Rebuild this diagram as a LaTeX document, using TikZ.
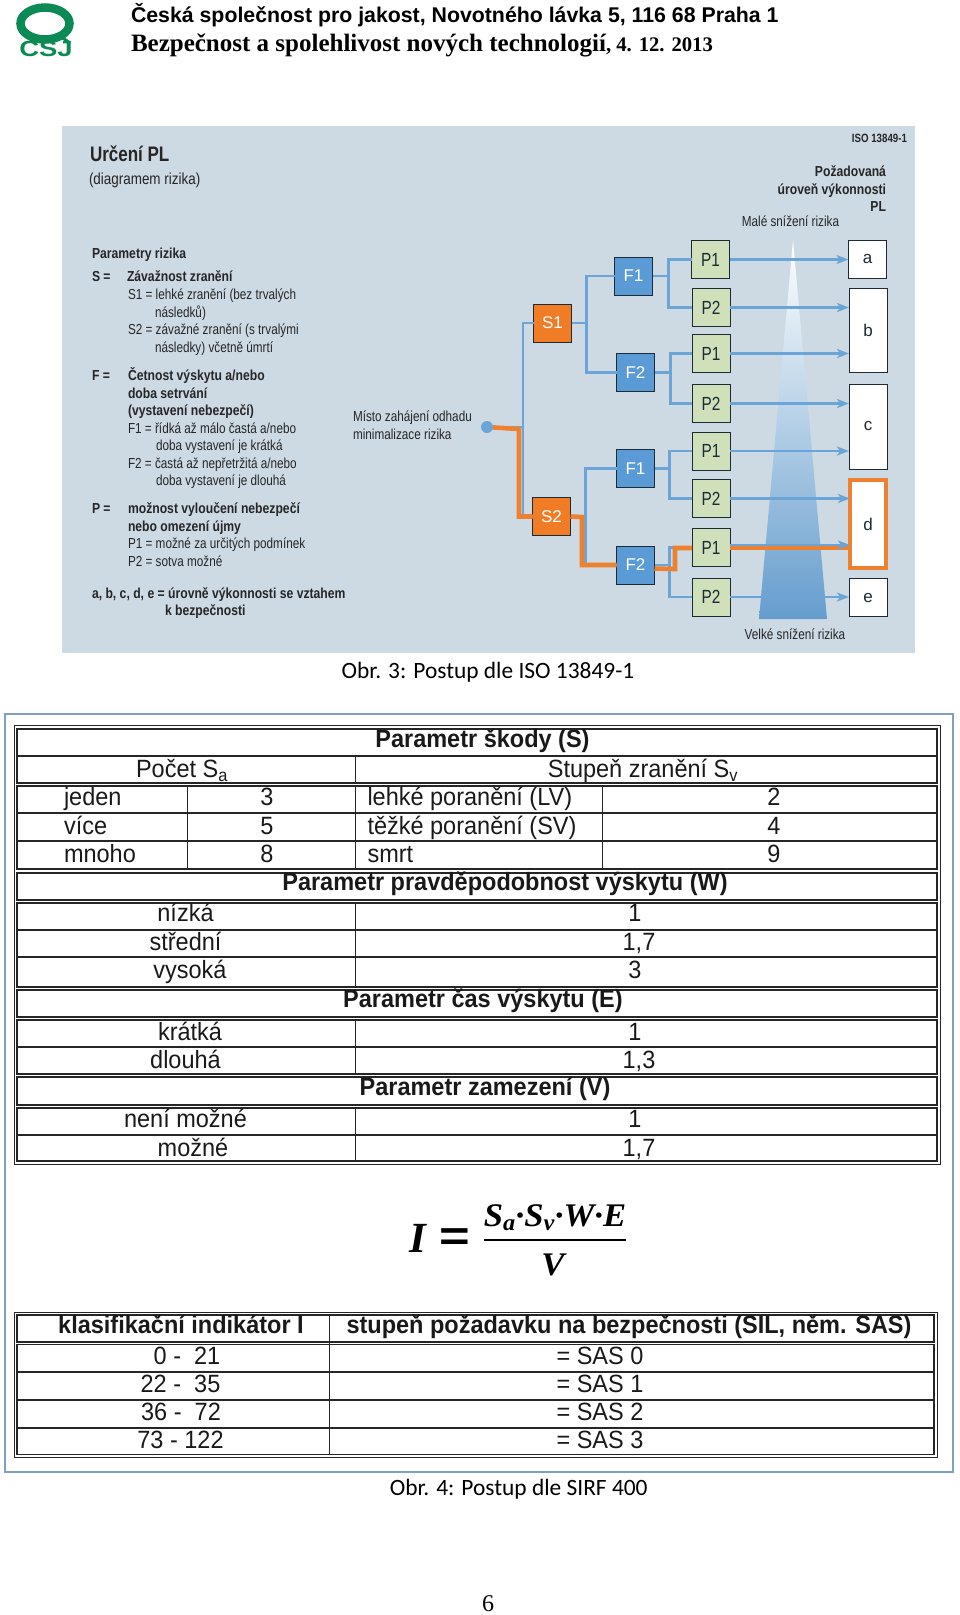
\documentclass[tikz,border=0pt]{standalone}
\usepackage{fontspec}
\setmainfont{Liberation Sans}
\newfontfamily\narrowfont[FakeStretch=0.81]{Liberation Sans}
\newfontfamily\thinfont[FakeStretch=0.84]{Liberation Sans}
\newfontfamily\cellfont[FakeStretch=0.94]{Liberation Sans}
\newfontfamily\logofont[FakeStretch=1.25]{Liberation Sans}
\newfontfamily\capfont{Carlito}
\newfontfamily\headfont{Liberation Serif}
\newfontfamily\fracfont[FakeStretch=1.05]{Liberation Serif}
\usetikzlibrary{arrows.meta,positioning}
\definecolor{panelc}{HTML}{CDDAE3}
\definecolor{wirec}{HTML}{6BA5D8}
\definecolor{hotc}{HTML}{EE8130}
\definecolor{fboxc}{HTML}{5A9BD5}
\definecolor{sboxc}{HTML}{F07D26}
\definecolor{pboxc}{HTML}{CFE0BA}
\definecolor{edgec}{HTML}{1C2B36}
\definecolor{logoc}{HTML}{0B8A55}
\definecolor{framec}{HTML}{7F9FC9}
\begin{document}
\begin{tikzpicture}[x=1pt,y=-1pt,
  lbl/.style={inner sep=0,outer sep=0},
  sbox/.style={draw=edgec,line width=1pt,outer sep=0,minimum size=38pt,fill=sboxc,text=white,font=\fontsize{17}{20}\selectfont},
  fbox/.style={sbox,fill=fboxc},
  pbox/.style={sbox,fill=pboxc,text=edgec,font=\narrowfont\fontsize{19}{20}\selectfont},
  lvl/.style={draw=edgec,line width=1pt,outer sep=0,minimum width=38pt,fill=white,text=edgec,font=\fontsize{17}{20}\selectfont},
  wire/.style={draw=wirec,line width=2.6pt},
  hot/.style={draw=hotc,line width=4.6pt},
  ar/.style={wire,-{Stealth[length=12pt,width=9pt,inset=3pt]}},
  side/.style={lbl,anchor=west,text height=11.5pt,text depth=3pt,text=black!85,font=\narrowfont\fontsize{14.5}{16}\selectfont},
  sideb/.style={side,font=\thinfont\bfseries\fontsize{14.5}{16}\selectfont},
  cell/.style={lbl,text height=20pt,text depth=5pt,text=black!90,font=\cellfont\fontsize{25}{28}\selectfont},
  cellb/.style={cell,font=\cellfont\bfseries\fontsize{25}{28}\selectfont},
  rule/.style={draw=black!85,line width=1.3pt}]
\useasboundingbox (0,0) rectangle (960,1615);

% header
\node[lbl,text=logoc,font=\logofont\bfseries\fontsize{22}{22}\selectfont] (logo) at (46,47) {ČSJ};
\draw[logoc,line width=8.5pt] (45,23.5) ellipse (24.5 and 16);
\draw[logoc,line width=3pt] (60,36) -- (70,43);
\node[lbl,anchor=west,font=\bfseries\fontsize{21.3}{22}\selectfont] (head1) at (131,15) {Česká společnost pro jakost, Novotného lávka 5, 116 68 Praha 1};
\node[lbl,anchor=west,font=\headfont\bfseries\fontsize{25}{26}\selectfont] (head2) at (131,45) {Bezpečnost a spolehlivost nových technologií{\fontsize{20.7}{22}\selectfont, 4. 12. 2013}};

% risk graph
\fill[panelc] (62,126) rectangle (915,653);
\shade[top color=white,bottom color=wirec!95!black] (793,240) -- (827,619) -- (759,619) -- cycle;

\node[sbox] (s1) at (552.5,323) {S1};
\node[sbox] (s2) at (551.5,516.5) {S2};
\node[fbox] (f1a) at (633.5,276) {F1};
\node[fbox] (f2a) at (635.5,372.5) {F2};
\node[fbox] (f1b) at (635.5,468.5) {F1};
\node[fbox] (f2b) at (635.5,565) {F2};
\node[pbox] (p1a) at (710.5,259.5) {P1};
\node[pbox,below=10pt of p1a.south,xshift=.5pt] (p2a) {P2};
\node[pbox,below=8pt of p2a] (p1b) {P1};
\node[pbox,below=12pt of p1b] (p2b) {P2};
\node[pbox,below=9.5pt of p2b] (p1c) {P1};
\node[pbox,below=9.5pt of p1c] (p2c) {P2};
\node[pbox,below=11pt of p2c] (p1d) {P1};
\node[pbox,below=11.5pt of p1d] (p2d) {P2};
\node[lvl,minimum height=38pt] (a) at (867.5,259.5) {a};
\node[lvl,minimum height=84pt] (b) at (868,330) {b};
\node[lvl,minimum height=85pt] (c) at (868,426.5) {c};
\node[lvl,minimum height=88pt,minimum width=36pt,draw=hotc,line width=4.4pt] (d) at (868,524) {d};
\node[lvl,minimum height=38pt] (e) at (868,597.5) {e};

\coordinate (start) at (487,427);
\coordinate (sjoin) at (523,427);
\coordinate (sbend) at (519,429);
\draw[wire] (start) -- (sjoin) |- (s1.west);
\draw[wire] (sjoin) |- (s2.west);
\foreach \s/\fa/\fb in {s1/f1a/f2a,s2/f1b/f2b}{
  \coordinate[right=15pt of \s.east] (\s j);
  \draw[wire] (\s.east) -- (\s j) |- (\fa.west);
  \draw[wire] (\s j) |- (\fb.west);
}
\foreach \f/\pa/\pb/\dx in {f1a/p1a/p2a/16,f2a/p1b/p2b/16,f1b/p1c/p2c/15,f2b/p1d/p2d/15}{
  \coordinate[right=\dx pt of \f.east] (\f j);
  \draw[wire] (\f.east) -- (\f j) |- (\pa.west);
  \draw[wire] (\f j) |- (\pb.west);
}
\foreach \p/\o in {p1a/a,p2a/b,p1b/b,p2b/c,p1c/c,p2c/d,p2d/e}
  \draw[ar] (\p.east) -- (\p.east -| \o.west);

% chosen path
\coordinate (sdrop) at (582,517);
\coordinate (fstep) at (675,569);
\draw[hot] (start) -- (sbend) |- (s2.west);
\draw[hot] (s2.east) -- (sdrop) |- (f2b.west);
\draw[hot] ([yshift=-3.5pt]f2b.east) -- (fstep) |- ([yshift=-.5pt]p1d.west);
\draw[hot] ([yshift=-.5pt]p1d.east) -- ([yshift=-.5pt]p1d.east -| d.west);
\draw[ar] ([yshift=2.5pt]p1d.east) -- ([yshift=2.5pt]p1d.east -| d.west);
\fill[wirec] (start) circle (6);

\node[lbl,anchor=west,font=\narrowfont\bfseries\fontsize{21}{22}\selectfont,text=black!85] (title) at (90,154) {Určení PL};
\node[side,font=\thinfont\fontsize{16}{16}\selectfont] (subt) at (89,180) {(diagramem rizika)};
\node[sideb,anchor=east,font=\narrowfont\bfseries\fontsize{12}{14}\selectfont] (iso) at (907,138) {ISO 13849-1};
\foreach \ty/\lab in {172/Požadovaná,190/úroveň výkonnosti,207/PL}
  \node[sideb,anchor=east] (req\ty) at (886,\ty) {\lab};
\node[side,anchor=center] (small) at (790.5,222) {Malé snížení rizika};
\node[side,anchor=center] (large) at (795,635) {Velké snížení rizika};
\node[side] (st1) at (353,417) {Místo zahájení odhadu};
\node[side] (st2) at (353,435) {minimalizace rizika};

\foreach \tx/\ty/\lab in {92/254/Parametry rizika,92/277/S =,127/277/Závažnost zranění,
  92/376/F =,128/376/{Četnost výskytu a/nebo},128/394/doba setrvání,128/411/(vystavení nebezpečí),
  92/509/P =,128/509/možnost vyloučení nebezpečí,128/527/nebo omezení újmy,
  92/594/{a, b, c, d, e = úrovně výkonnosti se vztahem},165/611/k bezpečnosti}
  \node[sideb] (bt\tx-\ty) at (\tx,\ty) {\lab};
\foreach \tx/\ty/\lab in {128/295/S1 = lehké zranění (bez trvalých,155/313/následků),
  128/330/S2 = závažné zranění (s trvalými,155/348/následky) včetně úmrtí,
  128/429/{F1 = řídká až málo častá a/nebo},156/446/doba vystavení je krátká,
  128/464/{F2 = častá až nepřetržitá a/nebo},156/481/doba vystavení je dlouhá,
  128/544/P1 = možné za určitých podmínek,128/562/P2 = sotva možné}
  \node[side] (rt\tx-\ty) at (\tx,\ty) {\lab};

\node[lbl,font=\capfont\fontsize{23.4}{24}\selectfont] (cap3) at (488,672) {Obr. 3: Postup dle ISO 13849-1};

% SIRF tables
\draw[framec,line width=1.2pt] (5,714) rectangle (953,1472);
\draw[black!85,line width=1pt] (14,725) rectangle (940,1164);
\foreach \ya/\yb in {729/783,786/869,873/900,903/987,990/1017,1020/1074,1077/1105,1108/1161}
  \draw[rule] (17,\ya) rectangle (937,\yb);
\foreach \yy in {756,813,841,930,957,1047,1135}
  \draw[rule] (17,\yy) -- (937,\yy);
\foreach \ya/\yb in {756/783,786/869,903/987,1020/1074,1108/1161}
  \draw[rule,line width=.9pt] (355,\ya) -- (355,\yb);
\foreach \xx in {187,602.5}
  \draw[rule,line width=.9pt] (\xx,786) -- (\xx,869);

\draw[black!85,line width=1pt] (14,1312) rectangle (937,1457);
\foreach \ya/\yb in {1315/1342,1344.5/1454.5}
  \draw[rule] (17,\ya) rectangle (934,\yb);
\foreach \yy in {1372,1400,1428}
  \draw[rule] (17,\yy) -- (934,\yy);
\draw[rule,line width=.9pt] (329.5,1315) -- (329.5,1454.5);

\foreach \tx/\ty/\lab in {482.5/740/Parametr škody (S),505/883/Parametr pravděpodobnost výskytu (W),
  483/1000/Parametr čas výskytu (E),485/1088/Parametr zamezení (V),
  181/1326/klasifikační indikátor I,629/1326/{stupeň požadavku na bezpečnosti (SIL, něm. SAS)}}
  \node[cellb] (hd\ty-\tx) at (\tx,\ty) {\lab};
\foreach \tx/\ty/\lab in {182/770/Počet S\textsubscript{a},643/770/Stupeň zranění S\textsubscript{v},
  267/798/3,774/798/2,267/827/5,774/827/4,267/855/8,774/855/9,
  185.5/914/nízká,635/914/1,185.5/943/střední,639/943/{1,7},190/971/vysoká,635/971/3,
  190/1033/krátká,635/1033/1,185.5/1061/dlouhá,639/1061/{1,3},
  185.5/1120/není možné,635/1120/1,193/1149/možné,639/1149/{1,7},
  187/1357/0 -~~21,180.5/1385/22 -~~35,181/1413/36 -~~72,180.5/1441/73 - 122,
  600/1357/= SAS 0,600/1385/= SAS 1,600/1413/= SAS 2,600/1441/= SAS 3}
  \node[cell] (td\ty-\tx) at (\tx,\ty) {\lab};
\foreach \tx/\ty/\lab in {64/798/jeden,367.5/798/lehké poranění (LV),64/827/více,367.5/827/těžké poranění (SV),
  64/855/mnoho,367.5/855/smrt}
  \node[cell,anchor=west] (tl\ty-\tx) at (\tx,\ty) {\lab};

% formula
\node[lbl,font=\headfont\bfseries\itshape\fontsize{43}{43}\selectfont] (fi) at (418,1238) {I};
\node[lbl,font=\logofont\bfseries\fontsize{42}{42}\selectfont] (feq) at (455,1240) {=};
\node[lbl,font=\fracfont\bfseries\itshape\fontsize{33}{34}\selectfont] (fnum) at (555,1218) {S\textsubscript{a}·S\textsubscript{v}·W·E};
\node[lbl,font=\fracfont\bfseries\itshape\fontsize{33}{34}\selectfont] (fden) at (553,1265) {V};
\draw[line width=2.4pt] (fnum.south west |- 0,1240) coordinate (fl) -- (fnum.south east |- 0,1240);

\node[lbl,font=\capfont\fontsize{23.4}{24}\selectfont] (cap4) at (518.7,1489) {Obr. 4: Postup dle SIRF 400};
\node[lbl,font=\headfont\fontsize{24}{24}\selectfont] (pageno) at (488,1604) {6};
\end{tikzpicture}
\end{document}
